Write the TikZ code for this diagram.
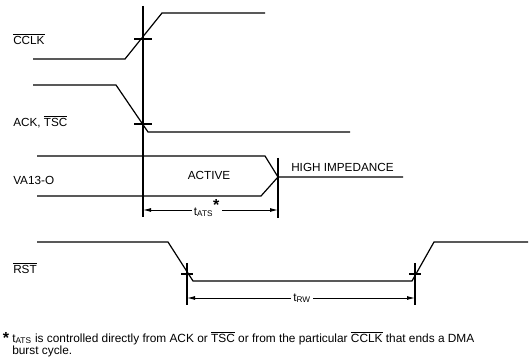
\documentclass[tikz,border=0pt]{standalone}
\usepackage{fontspec}
\setmainfont{Liberation Sans}
\usetikzlibrary{arrows.meta, positioning}
\newcommand{\ovl}[1]{$\overline{\mbox{#1}}$}

\begin{document}
\begin{tikzpicture}[
    x=0.75pt, y=-0.75pt,
    wave/.style={line width=0.9pt},
    tickmark/.style={line width=0.9pt},
    dim/.style={{Latex[length=6pt,width=3pt]}-{Latex[length=6pt,width=3pt]}, line width=0.7pt},
    lbl/.style={anchor=west, inner sep=0pt, font=\fontsize{8.8}{10}\selectfont},
    dimlbl/.style={fill=white, inner sep=1.5pt, font=\fontsize{8.8}{10}\selectfont}
]
\useasboundingbox (0,0) rectangle (531,359);

% Signal names
\node[lbl] (cclk) at (13,39) {\ovl{CCLK}};
\node[lbl] (ack) at (13,122) {ACK, \ovl{TSC}};
\node[lbl] (va) at (13,180) {VA13-O};
\node[lbl] (rst) at (13,268) {\ovl{RST}};

% Waveforms
\draw[wave] (33,59) -- (125,59) -- (162,13) -- (265,13);
\draw[wave] (33,85) -- (116,85) -- (148,132) -- (350,132);
\draw[wave] (37,156) -- (265,156) -- (278,177) -- (403,177);
\draw[wave] (37,196) -- (261,196) -- (278,177);
\draw[wave] (37,242) -- (168,242) -- (193,281) -- (412,281) -- (434,242) -- (528,242);

% Bus state labels
\node[lbl, anchor=center] (active) at (209,175) {ACTIVE};
\node[lbl] (hiz) at (291,167) {HIGH IMPEDANCE};

% Reference lines and crossing ticks
\draw[wave] (143,6) -- (143,217);
\draw[wave] (278,158) -- (278,218);
\draw[wave] (187,263) -- (187,305);
\draw[wave] (415,263) -- (415,305);
\draw[tickmark] (134,39) -- (152,39);
\draw[tickmark] (134,124) -- (152,124);
\draw[tickmark] (181,274) -- (193,274);
\draw[tickmark] (409,274) -- (421,274);

% Timing dimensions
\coordinate (atsL) at (143,210);
\coordinate (atsR) at (278,210);
\coordinate (rwL) at (187,298);
\coordinate (rwR) at (415,298);
\draw[dim] (atsL) -- (atsR);
\draw[dim] (rwL) -- (rwR);
\node[dimlbl] (tats) at (207,208) {t\textsubscript{ATS}\textsuperscript{\large\textbf{*}}};
\node[dimlbl] (trw) at (302,298) {t\textsubscript{RW}};

% Footnote
\node[lbl, anchor=center, font=\fontsize{12}{12}\selectfont] (star) at (6,338) {\textbf{*}};
\node[lbl, anchor=north west, align=left, font=\fontsize{8.9}{9.4}\selectfont] (note) at (12,331)
  {t\textsubscript{ATS} is controlled directly from ACK or \ovl{TSC} or from the particular \ovl{CCLK} that ends a DMA\\
   burst cycle.};
\end{tikzpicture}
\end{document}
